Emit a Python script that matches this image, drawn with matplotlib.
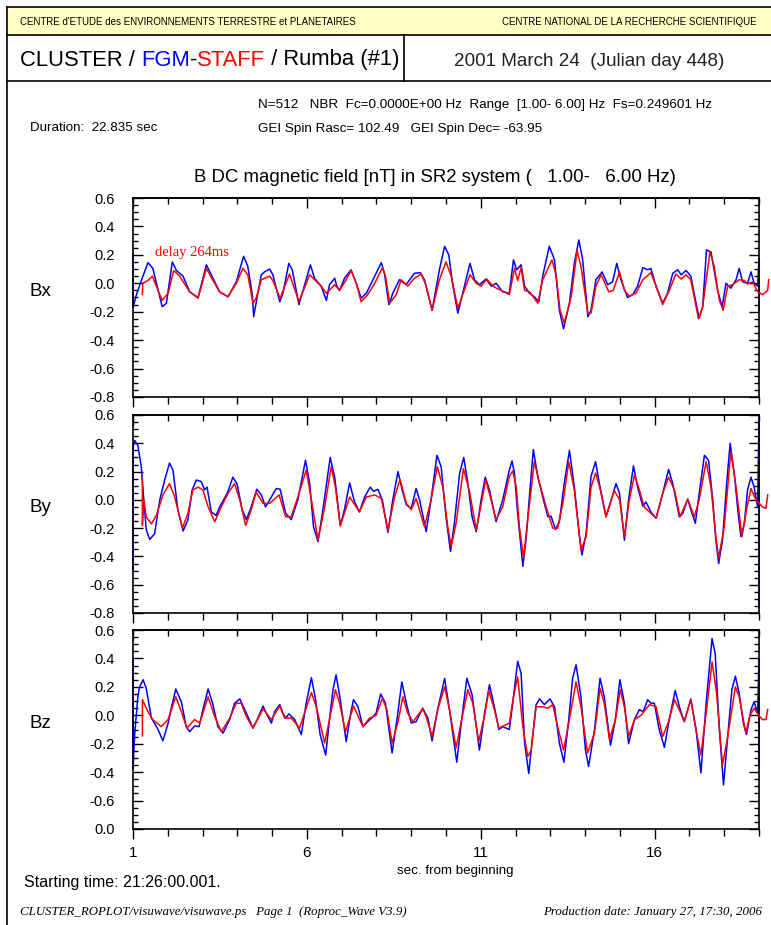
import matplotlib
matplotlib.use("Agg")
import matplotlib.pyplot as plt
from matplotlib.ticker import FixedLocator, FixedFormatter, MultipleLocator

plt.rcParams['font.family'] = ['Liberation Sans', 'DejaVu Sans']

W, H = 771, 925

# (sec from beginning, nT); FGM in blue, STAFF in red
bx_fgm = [(1.00, 0.21), (1.00, -0.17), (1.10, -0.08), (1.24, 0.02), (1.43, 0.145), (1.57, 0.105),
          (1.84, -0.165), (1.96, -0.14), (2.13, 0.15), (2.25, 0.09), (2.44, 0.05), (2.63, -0.06),
          (2.87, -0.10), (3.11, 0.13), (3.25, 0.06), (3.49, -0.06), (3.73, -0.095), (3.97, 0.01),
          (4.18, 0.19), (4.30, 0.12), (4.43, -0.08), (4.47, -0.235), (4.59, -0.07), (4.69, 0.06),
          (4.78, 0.08), (4.93, 0.10), (5.02, 0.06), (5.22, -0.13), (5.31, -0.07), (5.48, 0.14),
          (5.58, 0.095), (5.77, -0.15), (5.89, -0.05), (6.10, 0.13), (6.22, 0.035), (6.41, -0.02),
          (6.56, -0.12), (6.65, -0.01), (6.80, 0.035), (6.86, -0.02), (6.94, -0.05), (7.08, 0.035),
          (7.27, 0.095), (7.42, 0.0), (7.56, -0.105), (7.71, -0.07), (7.95, 0.05), (8.14, 0.145),
          (8.23, 0.07), (8.36, -0.15), (8.47, -0.07), (8.66, 0.025), (8.85, -0.01), (9.09, 0.07),
          (9.26, 0.075), (9.38, 0.025), (9.60, -0.19), (9.81, 0.095), (9.96, 0.26), (10.08, 0.20),
          (10.20, -0.02), (10.34, -0.21), (10.48, -0.07), (10.69, 0.14), (10.82, 0.025), (10.96, -0.01),
          (11.15, 0.03), (11.30, -0.02), (11.44, 0.0), (11.63, -0.06), (11.82, -0.07), (11.94, 0.165),
          (12.03, 0.095), (12.16, 0.13), (12.26, -0.02), (12.40, -0.07), (12.54, -0.095), (12.67, -0.13),
          (12.78, 0.05), (12.97, 0.26), (13.12, 0.165), (13.26, -0.19), (13.38, -0.32), (13.55, -0.14),
          (13.69, 0.14), (13.82, 0.305), (13.93, 0.165), (14.08, -0.235), (14.17, -0.19), (14.31, 0.025),
          (14.49, 0.08), (14.65, -0.01), (14.79, 0.01), (14.91, 0.14), (15.03, 0.025), (15.22, -0.10),
          (15.37, -0.08), (15.51, -0.02), (15.66, 0.11), (15.80, 0.095), (15.89, 0.105), (16.04, -0.02),
          (16.23, -0.14), (16.37, -0.07), (16.52, 0.07), (16.66, 0.095), (16.76, 0.06), (16.90, 0.09),
          (17.04, 0.05), (17.19, -0.14), (17.28, -0.245), (17.38, -0.165), (17.49, 0.235), (17.62, 0.22),
          (17.81, -0.05), (17.94, -0.165), (18.05, 0.0), (18.19, -0.035), (18.34, 0.025), (18.43, 0.105),
          (18.53, 0.01), (18.67, 0.0), (18.77, 0.08), (18.86, 0.0), (18.96, -0.02), (19.00, 0.175),
          (19.00, -0.19)]

bx_staff = [(1.27, -0.08), (1.28, 0.0), (1.43, 0.02), (1.56, 0.05), (1.67, -0.02), (1.84, -0.12),
            (2.01, -0.07), (2.17, 0.09), (2.34, 0.05), (2.63, -0.06), (2.87, -0.105), (3.11, 0.105),
            (3.30, 0.02), (3.49, -0.06), (3.73, -0.095), (3.97, 0.0), (4.16, 0.105), (4.30, 0.06),
            (4.45, -0.14), (4.54, -0.105), (4.69, 0.025), (4.93, 0.05), (5.02, 0.02), (5.23, -0.105),
            (5.50, 0.065), (5.77, -0.13), (6.08, 0.06), (6.22, 0.025), (6.41, -0.02), (6.56, -0.07),
            (6.80, -0.01), (6.94, -0.05), (7.13, 0.025), (7.27, 0.09), (7.42, 0.0), (7.56, -0.13),
            (7.75, -0.08), (7.95, 0.0), (8.17, 0.11), (8.26, 0.05), (8.38, -0.14), (8.57, -0.08),
            (8.71, 0.025), (8.90, -0.02), (9.09, 0.035), (9.29, 0.065), (9.43, -0.02), (9.60, -0.19),
            (9.81, 0.025), (10.00, 0.15), (10.15, 0.05), (10.34, -0.175), (10.48, -0.08), (10.69, 0.06),
            (10.87, 0.0), (11.01, -0.02), (11.17, 0.03), (11.35, -0.02), (11.49, -0.04), (11.68, -0.06),
            (11.82, -0.08), (11.97, 0.105), (12.06, 0.02), (12.16, 0.11), (12.26, -0.05), (12.40, -0.06),
            (12.64, -0.14), (12.78, 0.025), (13.05, 0.165), (13.17, 0.05), (13.28, -0.19), (13.40, -0.28),
            (13.60, -0.095), (13.77, 0.23), (13.88, 0.12), (14.08, -0.21), (14.17, -0.21), (14.31, -0.02),
            (14.46, 0.06), (14.68, -0.06), (14.81, -0.05), (14.99, 0.08), (15.13, -0.05), (15.27, -0.09),
            (15.46, -0.07), (15.66, 0.025), (15.89, 0.075), (16.04, -0.02), (16.23, -0.15), (16.42, -0.05),
            (16.61, 0.065), (16.76, 0.03), (16.90, 0.06), (17.04, 0.025), (17.26, -0.25), (17.38, -0.165),
            (17.59, 0.22), (17.71, 0.12), (17.86, -0.12), (17.97, -0.19), (18.10, -0.02), (18.24, -0.01),
            (18.43, 0.025), (18.58, 0.02), (18.67, -0.005), (18.82, 0.01), (18.96, -0.06), (19.10, -0.08),
            (19.25, -0.05), (19.28, 0.025)]

by_fgm = [(1.00, -0.50), (1.00, 0.37), (1.05, 0.42), (1.14, 0.385), (1.24, 0.23), (1.31, 0.0),
          (1.38, -0.21), (1.48, -0.28), (1.62, -0.24), (1.77, 0.0), (1.91, 0.14), (2.05, 0.26),
          (2.15, 0.21), (2.29, -0.07), (2.44, -0.22), (2.58, -0.14), (2.70, 0.07), (2.82, 0.14),
          (2.96, 0.13), (3.06, 0.07), (3.13, 0.09), (3.25, -0.085), (3.39, -0.11), (3.49, -0.05),
          (3.63, 0.01), (3.73, 0.06), (3.87, 0.16), (3.99, 0.115), (4.14, -0.07), (4.26, -0.14),
          (4.40, -0.05), (4.56, 0.075), (4.69, 0.035), (4.81, -0.05), (4.93, 0.0), (5.12, 0.08),
          (5.23, 0.075), (5.39, -0.095), (5.55, -0.14), (5.74, 0.0), (5.96, 0.28), (6.08, 0.115),
          (6.19, -0.19), (6.32, -0.295), (6.46, -0.07), (6.67, 0.30), (6.80, 0.16), (6.96, -0.18),
          (7.08, -0.07), (7.23, 0.12), (7.37, -0.015), (7.51, -0.085), (7.66, 0.02), (7.82, 0.09),
          (7.92, 0.06), (8.04, 0.075), (8.17, 0.0), (8.33, -0.23), (8.47, 0.0), (8.62, 0.20),
          (8.74, 0.07), (8.86, -0.035), (9.00, -0.06), (9.14, 0.08), (9.24, 0.0), (9.43, -0.225),
          (9.57, 0.0), (9.74, 0.315), (9.86, 0.235), (10.00, -0.12), (10.13, -0.365), (10.24, -0.165),
          (10.39, 0.185), (10.51, 0.30), (10.63, 0.115), (10.75, -0.12), (10.87, -0.225), (11.01, 0.0),
          (11.13, 0.16), (11.25, 0.07), (11.44, -0.155), (11.63, 0.0), (11.82, 0.21), (11.90, 0.275),
          (11.97, 0.185), (12.06, -0.095), (12.21, -0.47), (12.30, -0.285), (12.42, 0.09), (12.51, 0.355),
          (12.64, 0.165), (12.78, 0.02), (12.93, -0.12), (13.02, -0.115), (13.15, -0.21), (13.26, -0.155),
          (13.40, 0.115), (13.55, 0.35), (13.69, 0.09), (13.84, -0.26), (13.91, -0.39), (14.03, -0.235),
          (14.17, 0.165), (14.30, 0.27), (14.41, 0.115), (14.60, -0.12), (14.75, 0.0), (14.89, 0.115),
          (14.99, 0.045), (15.13, -0.285), (15.25, 0.0), (15.39, 0.24), (15.51, 0.09), (15.66, -0.045),
          (15.75, -0.015), (15.89, -0.085), (16.04, -0.13), (16.23, 0.045), (16.40, 0.215), (16.52, 0.115),
          (16.71, -0.12), (16.81, -0.095), (16.95, 0.005), (17.04, -0.07), (17.17, -0.165), (17.28, 0.045),
          (17.43, 0.315), (17.55, 0.28), (17.67, 0.0), (17.76, -0.285), (17.84, -0.45), (17.95, -0.285),
          (18.07, 0.115), (18.17, 0.40), (18.29, 0.185), (18.39, -0.07), (18.48, -0.26), (18.58, -0.165),
          (18.67, 0.07), (18.77, 0.16), (18.86, 0.09), (18.96, -0.05), (19.00, 0.56), (19.00, -0.76)]

by_staff = [(1.27, 0.15), (1.27, -0.18), (1.31, 0.0), (1.38, -0.12), (1.53, -0.17), (1.67, -0.11),
            (1.86, 0.035), (2.05, 0.115), (2.20, 0.02), (2.42, -0.20), (2.58, -0.095), (2.72, 0.07),
            (2.87, 0.09), (3.01, 0.07), (3.16, -0.05), (3.35, -0.155), (3.54, -0.05), (3.73, 0.045),
            (3.92, 0.115), (4.07, 0.0), (4.24, -0.18), (4.40, -0.07), (4.54, 0.055), (4.74, -0.025),
            (4.93, -0.025), (5.20, 0.035), (5.39, -0.12), (5.55, -0.12), (5.74, 0.02), (5.98, 0.21),
            (6.13, 0.0), (6.32, -0.285), (6.51, -0.05), (6.70, 0.235), (6.82, 0.09), (6.96, -0.185),
            (7.23, 0.02), (7.51, -0.085), (7.71, 0.02), (7.95, 0.035), (8.14, 0.01), (8.33, -0.215),
            (8.52, 0.02), (8.68, 0.145), (8.86, -0.025), (9.00, -0.07), (9.14, 0.01), (9.38, -0.19),
            (9.57, 0.0), (9.75, 0.235), (9.91, 0.09), (10.05, -0.19), (10.15, -0.33), (10.29, -0.165),
            (10.50, 0.22), (10.68, 0.055), (10.87, -0.215), (11.14, 0.14), (11.25, 0.045), (11.44, -0.14),
            (11.63, -0.05), (11.82, 0.165), (11.92, 0.205), (12.02, 0.09), (12.11, -0.19), (12.23, -0.41),
            (12.35, -0.14), (12.54, 0.27), (12.69, 0.115), (12.88, -0.05), (13.07, -0.20), (13.21, -0.20),
            (13.36, -0.025), (13.53, 0.27), (13.69, 0.07), (13.88, -0.355), (14.03, -0.26), (14.17, 0.09),
            (14.30, 0.19), (14.43, 0.08), (14.60, -0.12), (14.84, 0.065), (14.99, 0.0), (15.13, -0.26),
            (15.27, 0.0), (15.42, 0.175), (15.56, 0.07), (15.70, -0.05), (15.89, -0.095), (16.04, -0.13),
            (16.23, 0.045), (16.40, 0.16), (16.57, 0.07), (16.73, -0.12), (16.95, 0.005), (17.14, -0.12),
            (17.28, 0.0), (17.48, 0.27), (17.62, 0.09), (17.76, -0.26), (17.84, -0.41), (18.00, -0.19),
            (18.19, 0.34), (18.34, 0.09), (18.51, -0.26), (18.64, -0.07), (18.77, 0.08), (18.91, 0.0),
            (19.10, -0.05), (19.20, -0.06), (19.25, 0.035)]

bz_fgm = [(1.00, 0.40), (1.00, -0.38), (1.05, -0.125), (1.14, 0.13), (1.19, 0.20), (1.29, 0.25),
          (1.38, 0.19), (1.53, -0.02), (1.72, -0.10), (1.86, -0.18), (2.01, -0.055), (2.10, 0.05),
          (2.23, 0.185), (2.39, 0.095), (2.53, -0.08), (2.63, -0.115), (2.77, -0.075), (2.90, -0.08),
          (3.01, 0.04), (3.16, 0.185), (3.30, 0.075), (3.44, -0.08), (3.59, -0.125), (3.78, -0.03),
          (3.92, 0.085), (4.07, 0.115), (4.26, 0.015), (4.45, -0.09), (4.59, -0.02), (4.74, 0.065),
          (4.83, 0.015), (4.98, -0.055), (5.07, 0.025), (5.22, 0.075), (5.31, 0.015), (5.39, -0.02),
          (5.48, 0.01), (5.65, -0.03), (5.74, -0.08), (5.84, -0.135), (5.98, 0.085), (6.13, 0.265),
          (6.25, 0.11), (6.38, -0.135), (6.54, -0.28), (6.65, -0.03), (6.75, 0.18), (6.84, 0.285),
          (6.96, 0.11), (7.13, -0.185), (7.26, 0.015), (7.34, 0.11), (7.47, 0.06), (7.61, -0.08),
          (7.75, -0.045), (7.90, -0.01), (7.99, 0.015), (8.12, 0.15), (8.26, 0.085), (8.45, -0.265),
          (8.60, -0.01), (8.73, 0.235), (8.86, 0.085), (9.00, -0.055), (9.14, -0.045), (9.33, 0.05),
          (9.48, -0.02), (9.60, -0.18), (9.76, 0.04), (9.96, 0.26), (10.10, 0.04), (10.31, -0.33),
          (10.45, -0.03), (10.60, 0.26), (10.75, 0.145), (10.96, -0.245), (11.11, 0.015), (11.25, 0.215),
          (11.39, 0.06), (11.52, -0.10), (11.63, -0.08), (11.82, -0.10), (11.92, 0.085), (12.06, 0.38),
          (12.16, 0.295), (12.26, -0.195), (12.38, -0.41), (12.49, -0.15), (12.59, 0.075), (12.69, 0.115),
          (12.83, 0.075), (12.99, 0.115), (13.12, 0.06), (13.26, -0.195), (13.39, -0.33), (13.53, -0.03),
          (13.64, 0.26), (13.74, 0.355), (13.88, 0.13), (14.01, -0.245), (14.10, -0.36), (14.27, -0.10),
          (14.43, 0.26), (14.55, 0.13), (14.73, -0.21), (14.87, -0.03), (15.00, 0.25), (15.13, 0.085),
          (15.25, -0.20), (15.42, -0.03), (15.56, 0.04), (15.67, 0.025), (15.80, 0.11), (15.89, 0.085),
          (15.99, 0.085), (16.13, -0.10), (16.28, -0.225), (16.42, -0.03), (16.59, 0.175), (16.71, 0.06),
          (16.85, -0.045), (17.04, 0.115), (17.19, -0.10), (17.33, -0.405), (17.48, 0.085), (17.65, 0.54),
          (17.74, 0.435), (17.86, -0.10), (17.98, -0.49), (18.10, -0.15), (18.22, 0.18), (18.32, 0.275),
          (18.43, 0.155), (18.55, -0.055), (18.64, -0.135), (18.77, 0.04), (18.86, 0.095), (18.96, 0.015),
          (19.00, 0.40), (19.00, -0.36)]

bz_staff = [(1.27, -0.145), (1.27, 0.11), (1.43, 0.025), (1.57, -0.03), (1.81, -0.08), (2.01, -0.03),
            (2.23, 0.13), (2.39, 0.025), (2.55, -0.09), (2.77, -0.03), (2.92, -0.055), (3.16, 0.13),
            (3.35, -0.01), (3.54, -0.115), (3.78, -0.02), (3.97, 0.085), (4.11, 0.085), (4.26, -0.01),
            (4.45, -0.09), (4.74, 0.045), (4.98, -0.03), (5.22, 0.065), (5.36, -0.02), (5.55, -0.02),
            (5.79, -0.09), (5.93, 0.015), (6.13, 0.16), (6.27, 0.06), (6.51, -0.195), (6.65, -0.03),
            (6.82, 0.18), (6.94, 0.085), (7.11, -0.115), (7.34, 0.065), (7.61, -0.08), (7.80, -0.02),
            (7.99, 0.0), (8.17, 0.12), (8.30, 0.04), (8.45, -0.195), (8.62, -0.045), (8.76, 0.13),
            (8.90, 0.015), (9.05, -0.045), (9.33, 0.045), (9.43, -0.01), (9.60, -0.15), (9.76, 0.04),
            (9.96, 0.20), (10.10, 0.04), (10.29, -0.23), (10.45, -0.03), (10.63, 0.18), (10.77, 0.085),
            (10.94, -0.185), (11.11, 0.0), (11.23, 0.175), (11.39, 0.04), (11.52, -0.09), (11.65, -0.075),
            (11.82, -0.055), (11.94, 0.13), (12.06, 0.27), (12.21, -0.08), (12.35, -0.29), (12.45, -0.245),
            (12.59, 0.06), (12.78, 0.06), (12.93, 0.05), (13.07, 0.075), (13.21, -0.08), (13.38, -0.245),
            (13.53, -0.055), (13.74, 0.235), (13.88, 0.06), (14.07, -0.265), (14.27, -0.125), (14.43, 0.19),
            (14.55, 0.085), (14.70, -0.17), (14.87, -0.03), (15.01, 0.18), (15.13, 0.06), (15.25, -0.15),
            (15.42, -0.03), (15.61, 0.0), (15.85, 0.075), (16.04, 0.06), (16.23, -0.15), (16.40, -0.045),
            (16.57, 0.11), (16.73, 0.025), (16.85, -0.045), (17.04, 0.11), (17.17, -0.08), (17.33, -0.28),
            (17.48, 0.015), (17.65, 0.375), (17.78, 0.155), (17.95, -0.35), (18.10, -0.15), (18.32, 0.20),
            (18.43, 0.13), (18.62, -0.125), (18.74, 0.0), (18.86, 0.05), (18.99, 0.0), (19.10, -0.03),
            (19.20, -0.03), (19.25, 0.04)]

components = ["Bx", "By", "Bz"]
fgm_series = [bx_fgm, by_fgm, bz_fgm]
staff_series = [bx_staff, by_staff, bz_staff]

y_ticks = [-0.8, -0.6, -0.4, -0.2, 0.0, 0.2, 0.4, 0.6]
y_labels = ["-0.8", "-0.6", "-0.4", "-0.2", "0.0", "0.2", "0.4", "0.6"]
y_labels_last = ["0.0", "-0.6", "-0.4", "-0.2", "0.0", "0.2", "0.4", "0.6"]
x_ticks = [1, 6, 11, 16]
x_labels = ["1", "6", "11", "16"]

SERIF = ['Liberation Serif', 'DejaVu Serif']


def fx(x):
    return x / W


def fy(y):
    return 1 - y / H


fig = plt.figure(figsize=(W / 100, H / 100), dpi=100)

# page frame and header boxes
frame = [([7, 7], [7, 925]), ([7, 771], [7, 7]), ([7, 771], [35, 35]), ([7, 771], [81, 81]),
         ([404, 404], [35, 81])]
fig.patches.append(plt.Rectangle((fx(7), fy(35)), fx(764), 28 / H, transform=fig.transFigure,
                                 facecolor='#ffffc4', edgecolor='none', zorder=0))
for xs, ys in frame:
    fig.add_artist(plt.Line2D([fx(v) for v in xs], [fy(v) for v in ys], transform=fig.transFigure,
                              color='black', lw=1.2))

fig.text(fx(20), fy(22), "CENTRE d'ETUDE des ENVIRONNEMENTS TERRESTRE et PLANETAIRES", fontsize=7,
         va='center', ha='left')
fig.text(fx(757), fy(22), "CENTRE NATIONAL DE LA RECHERCHE SCIENTIFIQUE", fontsize=7,
         va='center', ha='right')

# multi-coloured title
renderer = fig.canvas.get_renderer()
parts = [("CLUSTER / ", 'black'), ("FGM", '#0000ff'), ("-", 'black'), ("STAFF", '#ff0000'),
         (" / Rumba (#1)", 'black')]
x0 = 20
prefix = ""
for s, c in parts:
    if prefix:
        probe = fig.text(0, 0, prefix + "|", fontsize=15.8)
        bar = fig.text(0, 0, "|", fontsize=15.8)
        wpx = probe.get_window_extent(renderer).width - bar.get_window_extent(renderer).width
        probe.remove()
        bar.remove()
    else:
        wpx = 0
    fig.text(fx(x0 + wpx), fy(60), s, fontsize=15.8, color=c, va='center', ha='left')
    prefix += s

fig.text(fx(589), fy(61), "2001 March 24  (Julian day 448)", fontsize=13.6, color='#222222',
         va='center', ha='center')

fig.text(fx(258), fy(105), "N=512   NBR  Fc=0.0000E+00 Hz  Range  [1.00- 6.00] Hz  Fs=0.249601 Hz",
         fontsize=9.7, va='center', ha='left')
fig.text(fx(258), fy(129), "GEI Spin Rasc= 102.49   GEI Spin Dec= -63.95", fontsize=9.7,
         va='center', ha='left')
fig.text(fx(30), fy(128), "Duration:  22.835 sec", fontsize=9.6, va='center', ha='left')

fig.text(fx(435), fy(178), "B DC magnetic field [nT] in SR2 system (   1.00-   6.00 Hz)",
         fontsize=13.4, va='center', ha='center')

panel_rows = [(198, 397), (415, 613), (630, 829)]
for i, (top, bot) in enumerate(panel_rows):
    ax = fig.add_axes([fx(133), fy(bot), fx(759) - fx(133), (bot - top) / H])
    tb, vb = zip(*fgm_series[i])
    tr, vr = zip(*staff_series[i])
    ax.plot(tb, vb, color='#0000ff', lw=1.1, clip_on=False, zorder=2)
    ax.plot(tr, vr, color='#ff0000', lw=1.1, clip_on=False, zorder=3)
    ax.set_xlim(1, 19)
    ax.set_ylim(-0.8, 0.6)

    ax.yaxis.set_major_locator(FixedLocator(y_ticks))
    ax.yaxis.set_major_formatter(FixedFormatter(y_labels_last if i == 2 else y_labels))
    ax.yaxis.set_minor_locator(MultipleLocator(0.05))
    ax.tick_params(axis='y', which='both', direction='in', left=True, right=True, width=1)
    ax.tick_params(axis='y', which='major', length=7.5, pad=13, labelsize=10.5)
    ax.tick_params(axis='y', which='minor', length=3.5)

    ax.xaxis.set_major_locator(FixedLocator(x_ticks))
    ax.xaxis.set_minor_locator(MultipleLocator(1))
    ax.tick_params(axis='x', which='both', direction='out', bottom=True, top=False, width=1)
    ax.tick_params(axis='x', which='major', length=7, pad=5, labelsize=11)
    ax.tick_params(axis='x', which='minor', length=5)
    if i == 2:
        ax.xaxis.set_major_formatter(FixedFormatter(x_labels))
    else:
        ax.tick_params(axis='x', labelbottom=False)

    sec = ax.secondary_xaxis('top')
    sec.xaxis.set_major_locator(FixedLocator(x_ticks))
    sec.xaxis.set_minor_locator(MultipleLocator(1))
    sec.tick_params(axis='x', which='both', direction='in', labeltop=False, width=1)
    sec.tick_params(axis='x', which='major', length=7.5)
    sec.tick_params(axis='x', which='minor', length=4)
    sec.spines['top'].set_linewidth(1.2)

    for sp in ax.spines.values():
        sp.set_linewidth(1.2)

    fig.text(fx(40), fy(top + 93), components[i], fontsize=13.5, va='center', ha='center')

    if i == 0:
        ax.text(1.63, 0.22, "delay 264ms", color='#ff0000', fontsize=10.5, family=SERIF,
                va='center', ha='left')

fig.text(fx(455), fy(871), "sec. from beginning", fontsize=9.6, va='center', ha='center')
fig.text(fx(24), fy(882), "Starting time: 21:26:00.001.", fontsize=11.5, va='center', ha='left')
fig.text(fx(20), fy(912), "CLUSTER_ROPLOT/visuwave/visuwave.ps   Page 1  (Roproc_Wave V3.9)",
         fontsize=9.3, style='italic', family=SERIF, va='center', ha='left')
fig.text(fx(762), fy(912), "Production date: January 27, 17:30, 2006", fontsize=9.3, style='italic',
         family=SERIF, va='center', ha='right')

fig.savefig("out.png", dpi=100)
